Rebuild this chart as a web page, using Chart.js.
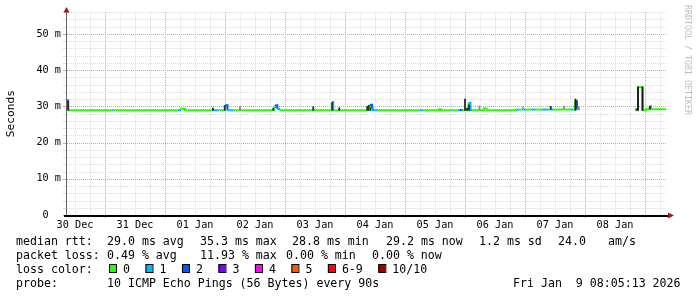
<!DOCTYPE html>
<html>
<head>
<meta charset="utf-8">
<script src="https://cdn.jsdelivr.net/npm/chart.js@4.4.1/dist/chart.umd.min.js"></script>
<style>
    html, body { margin: 0; padding: 0; background: #fff; }
    #wrap { width: 697px; height: 297px; position: relative; }
</style>
</head>
<body>
<div id="wrap"><canvas id="smokeChart"></canvas></div>
<script>
// x values are hours since 30 Dec 00:00
const xMin = 8.8;
const xMax = 248.8;
const dayLabels = ['30 Dec', '31 Dec', '01 Jan', '02 Jan', '03 Jan', '04 Jan', '05 Jan', '06 Jan', '07 Jan', '08 Jan'];

// median rtt (ms), held until the next point; loss = lost pings of 10
const medHours = [8.8, 9.2, 26.7, 27.3, 53.1, 54.0, 56.0, 67.3, 69.7, 72.1, 73.0, 75.4, 91.7, 92.1, 92.9, 93.7,
    106.7, 107.5, 114.7, 115.3, 115.7, 130.0, 130.8, 131.2, 133.2, 150.0, 151.5, 157.6, 158.4, 162.5, 163.1,
    165.2, 166.0, 166.8, 169.4, 170.2, 170.8, 175.5, 176.6, 188.6, 189.8, 190.6, 192.0, 194.8, 196.0, 198.8,
    201.2, 202.0, 203.2, 210.4, 211.2, 212.0, 212.8, 214.0, 225.0, 236.4, 237.2, 239.0, 240.4, 241.8, 242.4, 248.4];
const medValues = [31.6, 28.9, 28.9, 28.9, 28.9, 29.3, 28.9, 28.9, 28.9, 30.3, 28.9, 28.9, 29.8, 30.3, 29.3, 28.9,
    28.9, 28.9, 31.2, 28.9, 28.9, 30.4, 29.5, 28.9, 28.9, 28.9, 28.9, 29.2, 28.9, 28.9, 28.9,
    28.9, 29.0, 28.9, 31.0, 28.9, 28.9, 29.4, 28.9, 29.1, 29.1, 29.1, 29.1, 29.1, 29.1, 29.1,
    29.1, 29.1, 29.1, 29.1, 29.1, 31.4, 29.2, 29.2, null, 28.9, 35.3, 28.9, 29.2, 30.0, 29.2, 29.2];
const medLoss = [2, 0, 1, 0, 1, 0, 0, 1, 0, 2, 1, 0, 1, 2, 1, 0,
    1, 0, 1, 1, 0, 2, 1, 1, 0, 1, 0, 0, 0, 1, 0,
    1, 2, 0, 1, 1, 0, 0, 0, 1, 0, 1, 0, 1, 0, 1,
    0, 1, 0, 1, 0, 2, 1, 1, 0, 0, 0, 0, 0, 1, 0, 0];

// smoke: spread of the individual pings (ms), density = how many pings share the band
const smokeHours = [9.3, 67.2, 71.9, 78.0, 91.3, 107.3, 114.9, 117.7, 128.9, 129.5, 130.3, 168.0,
    168.8, 169.6, 173.8, 191.2, 202.3, 207.6, 212.2, 213.4, 236.5, 237.2, 239.0, 242.0];
const smokeLow = [28.9, 28.9, 28.9, 28.9, 28.9, 28.9, 28.9, 28.9, 28.9, 28.9, 28.9, 28.9,
    28.9, 28.9, 29.0, 29.0, 29.2, 29.2, 28.9, 29.2, 28.9, 28.9, 28.9, 29.2];
const smokeHigh = [31.4, 29.5, 30.2, 30.0, 29.5, 29.9, 31.0, 29.6, 30.0, 30.3, 29.6, 32.0,
    29.5, 30.4, 30.1, 29.9, 30.0, 30.0, 32.0, 30.0, 29.3, 35.3, 35.3, 30.0];
const smokeDensity = [9, 9, 9, 5, 9, 9, 9, 9, 9, 9, 8, 9, 9, 9, 5, 4, 9, 5, 10, 5, 9, 10, 10, 9];

const lossLabels = ['0', '1', '2', '3', '4', '5', '6-9', '10/10'];
const lossColors = ['#26ff00', '#00b8ff', '#0059ff', '#7e00ff', '#ff00ff', '#ff5500', '#ff0000', '#a10000'];

const rttStats = ['29.0 ms avg', '35.3 ms max', '28.8 ms min', '29.2 ms now', '1.2 ms sd', '24.0', 'am/s'];
const lossStats = ['0.49 % avg', '11.93 % max', '0.00 % min', '0.00 % now'];
const probeText = '10 ICMP Echo Pings (56 Bytes) every 90s';
const stampText = 'Fri Jan  9 08:05:13 2026';

const mono = '"DejaVu Sans Mono", monospace';
const gridColor = '#dedede';
const mgridColor = '#e09c9c';

function smokeShade(d) {
    const g = Math.round(255 - d * 23);
    return `rgb(${g}, ${g}, ${g})`;
}

// rrdtool style dotted grid, placed with the chart's own scales
const rrdGrid = {
    id: 'rrdGrid',
    beforeDatasetsDraw(chart) {
        const { ctx, chartArea: a, scales: { x, y } } = chart;
        ctx.save();
        ctx.lineWidth = 1;
        const line = (x1, y1, x2, y2, color, dash) => {
            ctx.strokeStyle = color;
            ctx.setLineDash(dash);
            ctx.beginPath();
            ctx.moveTo(x1, y1);
            ctx.lineTo(x2, y2);
            ctx.stroke();
        };
        // minor first, major on top
        [false, true].forEach(major => {
            x.ticks.forEach(t => {
                if ((t.value % 24 === 0) !== major) return;
                const px = Math.round(x.getPixelForValue(t.value)) + 0.5;
                line(px, a.top, px, a.bottom, major ? mgridColor : gridColor, [1, 1]);
                if (major) line(px, a.bottom, px, a.bottom + 3, mgridColor, []);
            });
            y.ticks.forEach(t => {
                if ((t.value % 10 === 0) !== major) return;
                const py = Math.round(y.getPixelForValue(t.value)) + 0.5;
                line(a.left, py, a.right, py, major ? mgridColor : gridColor, [1, 1]);
                line(a.left - 4, py, a.left, py, major ? mgridColor : gridColor, []);
            });
        });
        ctx.restore();
    },
};

const rrdExtras = {
    id: 'rrdExtras',
    afterDraw(chart) {
        const { ctx, chartArea: a } = chart;
        ctx.save();

        // axes + arrows
        ctx.strokeStyle = '#666';
        ctx.lineWidth = 1;
        ctx.beginPath();
        ctx.moveTo(a.left - 0.5, a.bottom);
        ctx.lineTo(a.left - 0.5, a.top - 2);
        ctx.stroke();
        ctx.strokeStyle = '#000';
        ctx.lineWidth = 2;
        ctx.beginPath();
        ctx.moveTo(a.left - 3, a.bottom + 1);
        ctx.lineTo(a.right + 2, a.bottom + 1);
        ctx.stroke();
        ctx.fillStyle = '#9b1b1b';
        ctx.beginPath();
        ctx.moveTo(a.left - 3.5, a.top + 0.5);
        ctx.lineTo(a.left + 2.5, a.top + 0.5);
        ctx.lineTo(a.left - 0.5, a.top - 5);
        ctx.closePath();
        ctx.fill();
        ctx.beginPath();
        ctx.moveTo(a.right + 1, a.bottom - 2.5);
        ctx.lineTo(a.right + 1, a.bottom + 3.5);
        ctx.lineTo(a.right + 7, a.bottom + 0.5);
        ctx.closePath();
        ctx.fill();

        // watermark
        ctx.save();
        ctx.translate(687, 5);
        ctx.rotate(Math.PI / 2);
        ctx.font = '8.3px ' + mono;
        ctx.fillStyle = '#bdbdbd';
        ctx.textBaseline = 'middle';
        ctx.fillText('RRDTOOL / TOBI OETIKER', 0, 0);
        ctx.restore();

        // legend block
        const rows = [244.5, 258.6, 272.7, 286.8];
        ctx.font = '11.6px ' + mono;
        ctx.fillStyle = '#000';
        ctx.textBaseline = 'alphabetic';
        ctx.fillText('median rtt:', 16, rows[0]);
        const rttX = [107, 200, 292, 386, 479, 558, 608];
        rttStats.forEach((s, i) => ctx.fillText(s, rttX[i], rows[0]));

        ctx.fillText('packet loss:', 16, rows[1]);
        const lossX = [107, 200, 286, 372];
        lossStats.forEach((s, i) => ctx.fillText(s, lossX[i], rows[1]));

        ctx.fillText('loss color:', 16, rows[2]);
        let bx = 109;
        lossLabels.forEach((lab, i) => {
            ctx.fillStyle = lossColors[i];
            ctx.fillRect(bx, 264.5, 7, 8);
            ctx.strokeStyle = '#000';
            ctx.lineWidth = 1;
            ctx.strokeRect(bx + 0.5, 264.5, 7, 8);
            ctx.fillStyle = '#000';
            ctx.fillText(lab, bx + 14, rows[2]);
            bx += 14 + ctx.measureText(lab).width + 15.5;
        });

        ctx.fillText('probe:', 16, rows[3]);
        ctx.fillText(probeText, 107, rows[3]);
        ctx.fillText(stampText, 513, rows[3]);

        ctx.restore();
    },
};

Chart.defaults.font.family = mono;
Chart.defaults.color = '#000';

new Chart(document.getElementById('smokeChart'), {
    type: 'line',
    data: {
        datasets: [
            {
                type: 'bar',
                label: 'smoke',
                data: smokeHours.map((h, i) => ({ x: h, y: [smokeLow[i], smokeHigh[i]] })),
                backgroundColor: smokeDensity.map(smokeShade),
                borderWidth: 0,
                barThickness: 1.2,
                grouped: false,
                order: 0,
            },
            {
                type: 'line',
                label: 'median rtt',
                data: medHours.map((h, i) => ({ x: h, y: medValues[i] })),
                stepped: true,
                borderWidth: 2,
                borderColor: lossColors[0],
                borderCapStyle: 'butt',
                pointRadius: 0,
                spanGaps: false,
                segment: {
                    borderColor: c => lossColors[medLoss[c.p0DataIndex]],
                },
                order: 1,
            },
        ],
    },
    options: {
        responsive: true,
        maintainAspectRatio: false,
        animation: false,
        events: [],
        layout: { padding: { top: 12, right: 30, bottom: 0, left: 0 } },
        plugins: {
            legend: { display: false },
            tooltip: { enabled: false },
        },
        scales: {
            x: {
                type: 'linear',
                min: xMin,
                max: xMax,
                offset: false,
                afterBuildTicks: s => {
                    const ticks = [];
                    for (let h = 12; h < xMax; h += 6) ticks.push({ value: h });
                    s.ticks = ticks;
                },
                afterFit: s => { s.height = 82; },
                ticks: {
                    autoSkip: false,
                    maxRotation: 0,
                    minRotation: 0,
                    padding: 4,
                    font: { family: mono, size: 10.2 },
                    callback: v => ((v - 12) % 24 === 0 ? dayLabels[(v - 12) / 24] : ''),
                },
                grid: { display: false, drawTicks: false, offset: false },
                border: { display: false },
            },
            y: {
                min: 0,
                max: 56,
                afterFit: s => { s.width = 67; },
                ticks: {
                    stepSize: 2,
                    autoSkip: false,
                    padding: 6,
                    font: { family: mono, size: 10.2 },
                    callback: v => (v === 0 ? '0  ' : (v % 10 === 0 ? v + ' m' : '')),
                },
                grid: { display: false, drawTicks: false },
                border: { display: false },
                title: {
                    display: true,
                    text: 'Seconds',
                    color: '#000',
                    font: { family: mono, size: 11.2 },
                    padding: { top: 4, bottom: 0 },
                },
            },
        },
    },
    plugins: [rrdGrid, rrdExtras],
});
</script>
</body>
</html>
